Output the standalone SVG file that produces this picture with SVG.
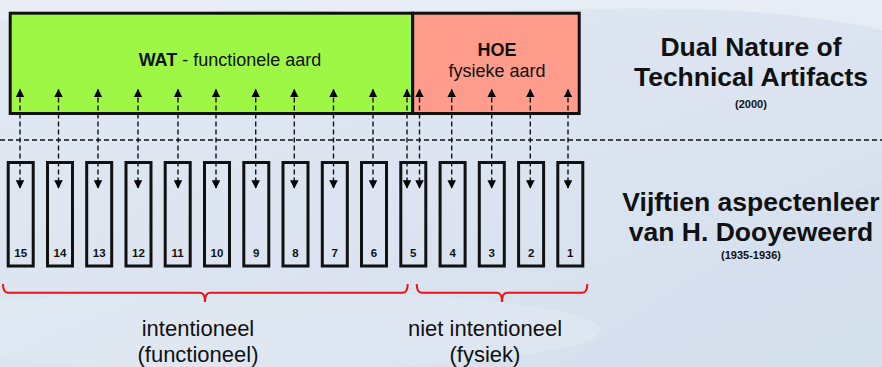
<svg xmlns="http://www.w3.org/2000/svg" width="882" height="367" viewBox="0 0 882 367">
<defs>
<linearGradient id="bg" x1="0" y1="0" x2="1" y2="1">
<stop offset="0" stop-color="#e2e9f3"/>
<stop offset="0.5" stop-color="#dbe4f0"/>
<stop offset="1" stop-color="#d5e0ed"/>
</linearGradient>
<marker id="ah" viewBox="0 0 10 10" refX="9" refY="5" markerWidth="9" markerHeight="8.5" markerUnits="userSpaceOnUse" orient="auto-start-reverse">
<path d="M0,0 L10,5 L0,10 Z" fill="#000"/>
</marker>
<style>
.txt{font-family:"Liberation Sans",Arial,sans-serif;fill:#111}
.b{font-weight:bold}
.box{fill:none;stroke:#111;stroke-width:3}
.num{font-family:"Liberation Sans",Arial,sans-serif;font-weight:bold;font-size:11.5px;fill:#111;text-anchor:middle}
.dash{stroke:#111;stroke-width:1.4;stroke-dasharray:5 3;fill:none}
.arr{marker-start:url(#ah);marker-end:url(#ah)}
.brace{fill:none;stroke:#e8141a;stroke-width:2}
.mid{text-anchor:middle}
</style>
</defs>
<rect x="0" y="0" width="882" height="367" fill="url(#bg)"/>
<path d="M0,0 L882,0 L882,30 C700,-10 500,20 300,10 C200,5 80,30 0,20 Z" fill="#eef2f8" opacity="0.6"/>
<path d="M560,367 C650,300 760,230 882,180 L882,367 Z" fill="#d3deeb" opacity="0.5"/>
<ellipse cx="250" cy="330" rx="350" ry="40" fill="#e6edf6" opacity="0.4"/>

<g id="top-wat">
<rect x="10.2" y="13.2" width="402.5" height="100.3" fill="#9ef744" stroke="#111" stroke-width="3"/>
<text class="txt" x="230" y="65.7" font-size="18" text-anchor="middle"><tspan class="b">WAT</tspan> - functionele aard</text>
</g>
<g id="top-hoe">
<rect x="412.7" y="13.2" width="166.5" height="100.3" fill="#ff9c8c" stroke="#111" stroke-width="3"/>
<text class="txt b mid" x="497" y="56" font-size="18">HOE</text>
<text class="txt mid" x="497" y="77" font-size="18">fysieke aard</text>
</g>

<g id="aspects">
<g id="a15"><rect class="box" x="8.2" y="162.5" width="25" height="103.5"/><text class="num" x="20.7" y="256.5">15</text></g>
<g id="a14"><rect class="box" x="47.5" y="162.5" width="25" height="103.5"/><text class="num" x="60" y="256.5">14</text></g>
<g id="a13"><rect class="box" x="86.7" y="162.5" width="25" height="103.5"/><text class="num" x="99.2" y="256.5">13</text></g>
<g id="a12"><rect class="box" x="126" y="162.5" width="25" height="103.5"/><text class="num" x="138.5" y="256.5">12</text></g>
<g id="a11"><rect class="box" x="165.2" y="162.5" width="25" height="103.5"/><text class="num" x="177.7" y="256.5">11</text></g>
<g id="a10"><rect class="box" x="204.5" y="162.5" width="25" height="103.5"/><text class="num" x="217" y="256.5">10</text></g>
<g id="a9"><rect class="box" x="243.8" y="162.5" width="25" height="103.5"/><text class="num" x="256.3" y="256.5">9</text></g>
<g id="a8"><rect class="box" x="283" y="162.5" width="25" height="103.5"/><text class="num" x="295.5" y="256.5">8</text></g>
<g id="a7"><rect class="box" x="322.3" y="162.5" width="25" height="103.5"/><text class="num" x="334.8" y="256.5">7</text></g>
<g id="a6"><rect class="box" x="361.5" y="162.5" width="25" height="103.5"/><text class="num" x="374" y="256.5">6</text></g>
<g id="a5"><rect class="box" x="400.8" y="162.5" width="25" height="103.5"/><text class="num" x="413.3" y="256.5">5</text></g>
<g id="a4"><rect class="box" x="440.1" y="162.5" width="25" height="103.5"/><text class="num" x="452.6" y="256.5">4</text></g>
<g id="a3"><rect class="box" x="479.3" y="162.5" width="25" height="103.5"/><text class="num" x="491.8" y="256.5">3</text></g>
<g id="a2"><rect class="box" x="518.6" y="162.5" width="25" height="103.5"/><text class="num" x="531.1" y="256.5">2</text></g>
<g id="a1"><rect class="box" x="557.8" y="162.5" width="25" height="103.5"/><text class="num" x="570.3" y="256.5">1</text></g>
</g>

<g id="connectors">
<line class="dash" x1="0" y1="140" x2="882" y2="140"/>
<g class="dash arr">
<line x1="20" y1="89.5" x2="20" y2="188"/>
<line x1="58.5" y1="89.5" x2="58.5" y2="188"/>
<line x1="98" y1="89.5" x2="98" y2="188"/>
<line x1="138" y1="89.5" x2="138" y2="188"/>
<line x1="178" y1="89.5" x2="178" y2="188"/>
<line x1="216" y1="89.5" x2="216" y2="188"/>
<line x1="255.7" y1="89.5" x2="255.7" y2="188"/>
<line x1="294.3" y1="89.5" x2="294.3" y2="188"/>
<line x1="333.5" y1="89.5" x2="333.5" y2="188"/>
<line x1="373" y1="89.5" x2="373" y2="188"/>
<line x1="407" y1="89.5" x2="407" y2="188"/>
<line x1="419.5" y1="89.5" x2="419.5" y2="188"/>
<line x1="451.7" y1="89.5" x2="451.7" y2="188"/>
<line x1="491.7" y1="89.5" x2="491.7" y2="188"/>
<line x1="530.3" y1="89.5" x2="530.3" y2="188"/>
<line x1="568" y1="89.5" x2="568" y2="188"/>
</g>
</g>

<g id="brace-intentioneel">
<path class="brace" d="M3,284 Q3,292.7 8,292.7 L200,292.7 Q205,292.7 205,302 Q205,292.7 210,292.7 L402.7,292.7 Q407.7,292.7 407.7,284"/>
<text class="txt mid" x="198" y="335.7" font-size="22">intentioneel</text>
<text class="txt mid" x="198" y="361.5" font-size="22">(functioneel)</text>
</g>
<g id="brace-niet">
<path class="brace" d="M416.7,284 Q416.7,292.7 421.7,292.7 L497,292.7 Q502,292.7 502,302 Q502,292.7 507,292.7 L582.3,292.7 Q587.3,292.7 587.3,284"/>
<text class="txt mid" x="485" y="335.7" font-size="22">niet intentioneel</text>
<text class="txt mid" x="485" y="361.5" font-size="22">(fysiek)</text>
</g>

<g id="title-dual">
<text class="txt b mid" x="751" y="55.5" font-size="26.5">Dual Nature of</text>
<text class="txt b mid" x="751" y="86" font-size="26.5">Technical Artifacts</text>
<text class="txt b mid" x="751" y="107.5" font-size="11">(2000)</text>
</g>
<g id="title-dooyeweerd">
<text class="txt b mid" x="751" y="210.5" font-size="26.5">Vijftien aspectenleer</text>
<text class="txt b mid" x="751" y="241" font-size="26.5">van H. Dooyeweerd</text>
<text class="txt b mid" x="751" y="258.5" font-size="11">(1935-1936)</text>
</g>
</svg>
